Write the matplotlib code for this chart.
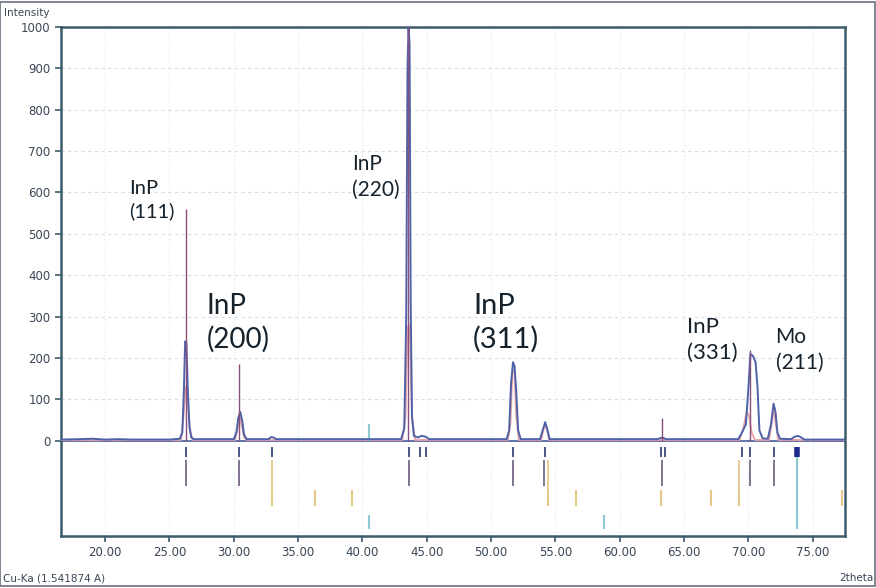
import numpy as np
import matplotlib
matplotlib.use("Agg")
import matplotlib.pyplot as plt
from matplotlib.patches import Rectangle

obs_x = [16.6, 18.0, 19.0, 20.0, 21.0, 22.0, 25.0, 25.8, 26.0, 26.12, 26.22, 26.32, 26.42, 26.55, 26.7, 26.9,
         30.0, 30.2, 30.35, 30.5, 30.65, 30.8, 31.0, 32.7, 32.9, 33.1, 33.3,
         43.0, 43.25, 43.4, 43.5, 43.58, 43.66, 43.75, 43.85, 44.0, 44.3, 44.6, 44.9, 45.2,
         51.2, 51.4, 51.55, 51.7, 51.82, 51.95, 52.1, 52.3,
         53.8, 54.0, 54.2, 54.35, 54.55, 62.9, 63.3, 63.6,
         69.2, 69.5, 69.8, 70.0, 70.15, 70.35, 70.55, 70.7, 70.85, 71.1,
         71.5, 71.75, 71.95, 72.1, 72.25, 72.45, 73.3, 73.6, 73.85, 74.1, 74.35, 77.5]
obs_y = [3, 4, 5, 3, 4, 3, 3, 5, 20, 120, 240, 235, 130, 35, 8, 4,
         4, 20, 55, 70, 50, 15, 4, 4, 9, 8, 4,
         4, 30, 300, 900, 1000, 960, 330, 60, 12, 8, 12, 10, 4,
         4, 25, 140, 190, 180, 120, 25, 4,
         4, 25, 45, 30, 4, 4, 8, 4,
         4, 20, 40, 130, 210, 205, 190, 130, 25, 6,
         5, 40, 90, 70, 20, 5, 4, 10, 12, 8, 3, 3]

# calculated profile (pink trace)
calc_x = [16.6, 25.9, 26.1, 26.25, 26.4, 26.6, 26.8, 30.1, 30.3, 30.45, 30.6, 30.8, 31.0,
          43.1, 43.35, 43.5, 43.6, 43.7, 43.85, 44.1, 51.3, 51.5, 51.65, 51.8, 51.95, 52.15,
          53.9, 54.05, 54.2, 54.35, 54.5, 69.3, 69.6, 69.85, 70.05, 70.25, 70.5,
          71.6, 71.8, 71.95, 72.1, 72.3, 77.5]
calc_y = [2, 2, 60, 130, 110, 25, 2, 2, 30, 60, 40, 8, 2,
          2, 60, 270, 280, 250, 50, 2, 2, 40, 165, 170, 60, 2,
          2, 25, 40, 25, 2, 2, 30, 70, 60, 20, 2,
          2, 40, 80, 45, 2, 2]

# peak sticks above zero
stick_pos = [26.25, 30.4, 43.55, 63.3, 70.1]
stick_hgt = [560, 185, 1000, 55, 220]

# reference patterns below the baseline
ref1_pos = [26.3, 30.4, 33.0, 43.6, 44.5, 44.9, 51.7, 54.2, 63.2, 63.5, 69.5, 70.1, 72.0]
ref2_pos = [26.3, 30.4, 43.6, 51.7, 54.1, 63.3, 70.1, 72.0]
ref3_pos = [33.0, 36.3, 39.2, 54.4, 56.6, 63.2, 67.1, 69.3, 77.3]
ref4_pos = [40.5, 58.8, 73.8]

xticks = [20, 25, 30, 35, 40, 45, 50, 55, 60, 65, 70, 75]
yticks = [0, 100, 200, 300, 400, 500, 600, 700, 800, 900, 1000]

labels = ["InP\n(111)", "InP\n(200)", "InP\n(220)", "InP\n(311)", "InP\n(331)", "Mo\n(211)"]
label_x = [21.9, 27.9, 39.2, 48.6, 65.2, 72.1]
label_y = [630, 358, 692, 358, 298, 274]
label_size = [14.5, 20, 15, 21, 16, 15]

fig = plt.figure(figsize=(8.76, 5.88), dpi=100)
ax = fig.add_axes([0.0696, 0.0884, 0.895, 0.866])

spine_col = "#3d5b6b"
ax.set_xlim(16.57, 77.5)
ax.set_ylim(-230, 1000)

# grid
for v in yticks[1:-1]:
    ax.axhline(v, color="#d6deea", lw=0.8, ls=(0, (3, 3)), zorder=0)
for v in xticks:
    ax.axvline(v, color="#d9e7f1", lw=0.8, ls=(0, (1, 2)), zorder=0)

ax.axhline(0, color="#5567a8", lw=1.3, zorder=2)
ax.plot(calc_x, calc_y, color="#eaa2a6", lw=1.3, zorder=3)
ax.plot(obs_x, obs_y, color="#4f62a8", lw=1.4, zorder=4)
ax.vlines(stick_pos, 0, stick_hgt, color="#8a4f7a", lw=1.0, zorder=5)
ax.vlines([40.5], 0, 40, color="#8cc9d0", lw=1.5, zorder=3)

ax.vlines(ref1_pos, -14, -40, color="#3b4a7e", lw=1.3)
ax.vlines([73.8], -14, -40, color="#1f2a8a", lw=4)
ax.vlines(ref2_pos, -46, -108, color="#6b5a7e", lw=1.2)
ax.vlines(ref3_pos, -118, -157, color="#e6c98a", lw=1.5)
ax.vlines([33.0, 54.4, 69.3], -46, -157, color="#e6c98a", lw=1.3)
ax.vlines(ref4_pos, -180, -212, color="#8ccad2", lw=1.5)
ax.vlines([73.8], -40, -212, color="#8ccad2", lw=1.5)

for t, x, y, s in zip(labels, label_x, label_y, label_size):
    ax.text(x, y, t, fontsize=s, family="Lato", color="#15212b", va="top", ha="left", linespacing=1.35)

ax.set_xticks(xticks)
ax.set_xticklabels(["%.2f" % v for v in xticks])
ax.set_yticks(yticks)
ax.tick_params(labelsize=8.5, colors=spine_col, labelcolor="#3a4656", length=4, width=1.2)
for s in ax.spines.values():
    s.set_color(spine_col)
    s.set_linewidth(1.8)

fig.text(0.005, 0.978, "Intensity", fontsize=7.5, color="#3a4656", va="center")
fig.text(0.003, 0.017, "Cu-Ka (1.541874 A)", fontsize=7.5, color="#3a4656", va="center")
fig.text(0.997, 0.017, "2theta", fontsize=7.5, color="#3a4656", va="center", ha="right")
fig.patches.append(Rectangle((0, 0.003), 0.999, 0.994, transform=fig.transFigure,
                             fill=False, ec="#6a7080", lw=1.2))

fig.savefig("out.png", dpi=100)
